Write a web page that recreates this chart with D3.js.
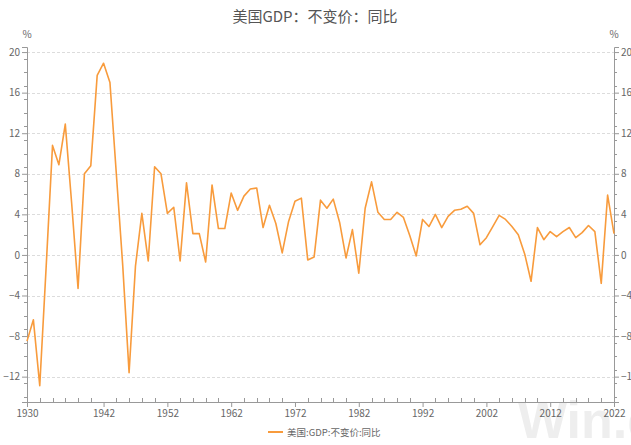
<!DOCTYPE html>
<html>
<head>
<meta charset="utf-8">
<script src="https://cdn.jsdelivr.net/npm/d3@7"></script>
<style>
  body { margin: 0; background: #fff; }
  svg text { font-family: "Noto Sans CJK SC", "Open Sans", sans-serif; }
</style>
</head>
<body>
<svg id="chart" width="631" height="445"></svg>
<script>
// 美国GDP 不变价 同比 (%), 1930-2022
var years = d3.range(1930, 2023);
var growth = [
  -8.5, -6.4, -12.9, -1.2, 10.8, 8.9, 12.9, 5.1, -3.3, 8.0,
  8.8, 17.7, 18.9, 17.0, 8.0, -1.0, -11.6, -1.1, 4.1, -0.6,
  8.7, 8.0, 4.1, 4.7, -0.6, 7.1, 2.1, 2.1, -0.7, 6.9,
  2.6, 2.6, 6.1, 4.4, 5.8, 6.5, 6.6, 2.7, 4.9, 3.1,
  0.2, 3.3, 5.3, 5.6, -0.5, -0.2, 5.4, 4.6, 5.5, 3.2,
  -0.3, 2.5, -1.8, 4.6, 7.2, 4.2, 3.5, 3.5, 4.2, 3.7,
  1.9, -0.1, 3.5, 2.8, 4.0, 2.7, 3.8, 4.4, 4.5, 4.8,
  4.1, 1.0, 1.7, 2.8, 3.9, 3.5, 2.8, 2.0, 0.1, -2.6,
  2.7, 1.5, 2.3, 1.8, 2.3, 2.7, 1.7, 2.2, 2.9, 2.3,
  -2.8, 5.9, 2.1
];
var xTickLabels = [1930, 1942, 1952, 1962, 1972, 1982, 1992, 2002, 2012, 2022];
var yTicks = [20, 16, 12, 8, 4, 0, -4, -8, -12];

var svg = d3.select('#chart');
var plotLeft = 27, plotRight = 614, plotTop = 47, plotBottom = 402;
var lineColor = '#f89b3c';
var textColor = '#666';

var x = d3.scaleLinear().domain([1930, 2022]).range([plotLeft, plotRight]);
var y = d3.scaleLinear().domain([-14.5, 20.5]).range([plotBottom, plotTop]);

// watermark
svg.append('text')
  .attr('x', 518).attr('y', 438)
  .attr('font-size', 52).attr('font-weight', 'bold')
  .style('font-family', 'Liberation Sans, Arial, sans-serif')
  .attr('fill', '#eeeeee')
  .text('Win.d');

// title
svg.append('text')
  .attr('x', 315).attr('y', 22)
  .attr('text-anchor', 'middle')
  .attr('font-size', 15)
  .attr('fill', '#555')
  .text('美国GDP：不变价：同比');

// gridlines
svg.append('g')
  .selectAll('line')
  .data(yTicks)
  .enter()
  .append('line')
  .attr('x1', plotLeft).attr('x2', plotRight)
  .attr('y1', function(d) { return Math.round(y(d)) + 0.5; })
  .attr('y2', function(d) { return Math.round(y(d)) + 0.5; })
  .attr('stroke', '#dcdcdc')
  .attr('stroke-dasharray', '3,2');

// y axes, left and right
var minorY = d3.range(-14, 20.1, 4 / 3);
function yAxis(side) {
  var ax = side === 'left'
    ? d3.axisLeft(y).tickValues(yTicks).tickSize(5).tickPadding(2)
    : d3.axisRight(y).tickValues(yTicks).tickSize(5).tickPadding(2);
  var g = svg.append('g')
    .attr('transform', 'translate(' + (side === 'left' ? plotLeft : plotRight) + ',0)')
    .call(ax);
  g.select('.domain').attr('stroke', '#999');
  g.selectAll('.tick line').attr('stroke', '#999');
  g.selectAll('.tick text').attr('fill', textColor).attr('font-size', 10);
  var sign = side === 'left' ? -1 : 1;
  g.selectAll('.minor')
    .data(minorY.filter(function(v) { return yTicks.indexOf(Math.round(v * 100) / 100) < 0; }))
    .enter()
    .append('line')
    .attr('class', 'minor')
    .attr('x1', 0).attr('x2', sign * 3)
    .attr('y1', function(d) { return Math.round(y(d)) + 0.5; })
    .attr('y2', function(d) { return Math.round(y(d)) + 0.5; })
    .attr('stroke', '#999');
  svg.append('text')
    .attr('x', side === 'left' ? plotLeft : plotRight).attr('y', 38)
    .attr('text-anchor', 'middle')
    .attr('font-size', 10)
    .attr('fill', textColor)
    .text('%');
}
yAxis('left');
yAxis('right');

// x axis
var xg = svg.append('g')
  .attr('transform', 'translate(0,' + plotBottom + ')')
  .call(d3.axisBottom(x).tickValues(xTickLabels).tickFormat(d3.format('d')).tickSize(5).tickPadding(3));
xg.select('.domain').attr('stroke', '#999');
xg.selectAll('.tick line').attr('stroke', '#999');
xg.selectAll('.tick text').attr('fill', textColor).attr('font-size', 10);
xg.selectAll('.minor')
  .data(d3.range(1932, 2022, 2).filter(function(v) { return xTickLabels.indexOf(v) < 0; }))
  .enter()
  .append('line')
  .attr('class', 'minor')
  .attr('x1', function(d) { return Math.round(x(d)) + 0.5; })
  .attr('x2', function(d) { return Math.round(x(d)) + 0.5; })
  .attr('y1', 0).attr('y2', -4)
  .attr('stroke', '#999');

// the growth line
var line = d3.line()
  .x(function(d, i) { return x(years[i]); })
  .y(function(d) { return y(d); });

svg.append('path')
  .datum(growth)
  .attr('d', line)
  .attr('fill', 'none')
  .attr('stroke', lineColor)
  .attr('stroke-width', 1.6)
  .attr('stroke-linejoin', 'round');

// legend
var legend = svg.append('g').attr('transform', 'translate(268,432)');
legend.append('line')
  .attr('x1', 0).attr('x2', 15)
  .attr('stroke', lineColor).attr('stroke-width', 2);
legend.append('text')
  .attr('x', 19).attr('y', 3.5)
  .attr('font-size', 9.5)
  .attr('fill', textColor)
  .text('美国:GDP:不变价:同比');
</script>
</body>
</html>
